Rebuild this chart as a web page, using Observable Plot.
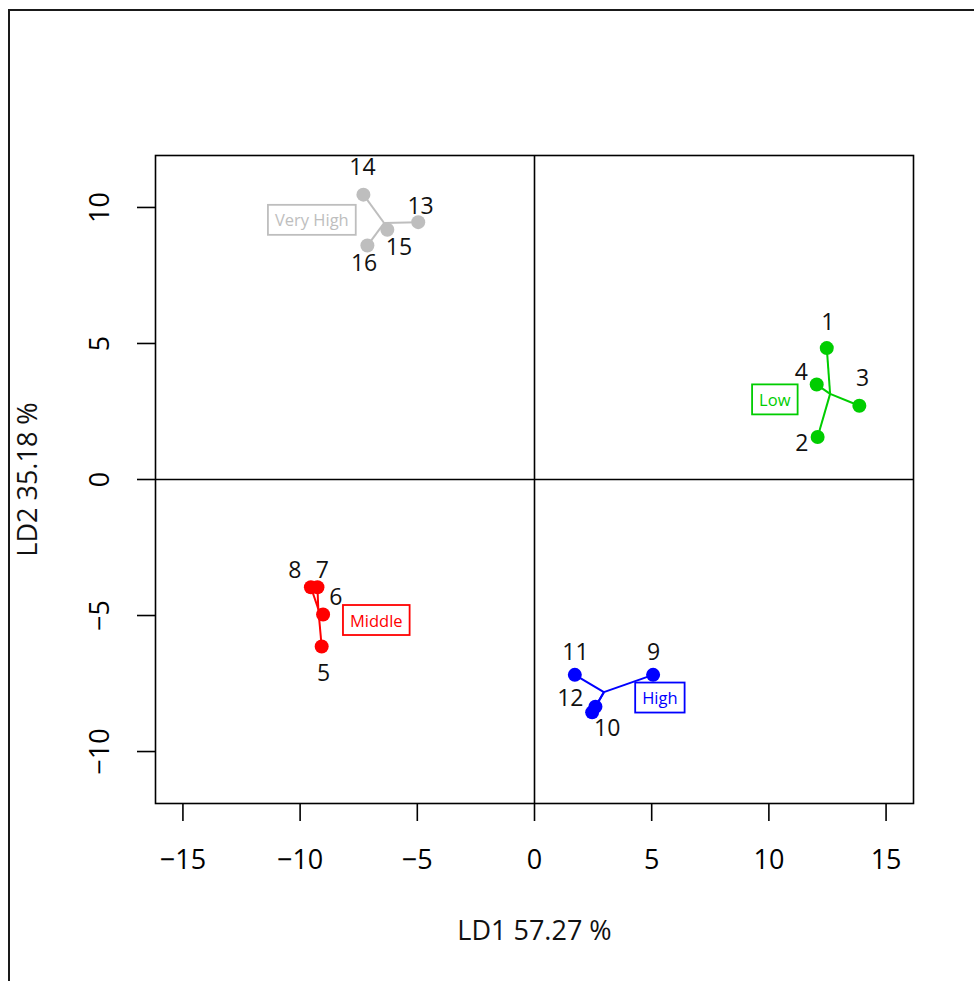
<!DOCTYPE html>
<html>
<head>
<meta charset="utf-8">
<script src="https://cdn.jsdelivr.net/npm/d3@7"></script>
<script src="https://cdn.jsdelivr.net/npm/@observablehq/plot@0.6"></script>
<style>
  html, body { margin: 0; padding: 0; background: #fff; }
  #wrap { position: relative; width: 974px; height: 981px; overflow: hidden; }
  #border { position: absolute; left: 8px; top: 9px; width: 1100px; height: 1100px;
            border-left: 2px solid #1a1a1a; border-top: 2px solid #1a1a1a; pointer-events: none; }
</style>
</head>
<body>
<div id="wrap"><div id="chart"></div><div id="border"></div></div>
<script>
// ---- data ----
const ids    = [1, 2, 3, 4, 5, 6, 7, 8, 9, 10, 11, 12, 13, 14, 15, 16];
const groups = ["Low", "Low", "Low", "Low", "Middle", "Middle", "Middle", "Middle",
                "High", "High", "High", "High", "Very High", "Very High", "Very High", "Very High"];
const ld1 = [12.47, 12.08, 13.86, 12.04, -9.08, -9.02, -9.26, -9.54, 5.06, 2.46, 1.72, 2.60, -4.96, -7.30, -6.28, -7.13];
const ld2 = [4.83, 1.56, 2.71, 3.49, -6.14, -4.96, -3.96, -3.96, -7.18, -8.56, -7.18, -8.35, 9.46, 10.47, 9.18, 8.60];
// where each point's number label sits (data units)
const labelLD1 = [12.51, 11.41, 14.00, 11.38, -9.00, -8.48, -9.05, -10.23, 5.08, 3.10, 1.75, 1.53, -4.86, -7.34, -5.78, -7.27];
const labelLD2 = [5.78, 1.31, 3.70, 3.94, -7.12, -4.35, -3.35, -3.35, -6.35, -9.17, -6.35, -8.04, 10.02, 11.48, 8.54, 7.93];

const groupNames  = ["Low", "Middle", "High", "Very High"];
const groupColors = ["#00CD00", "#FF0000", "#0000FF", "#BEBEBE"];
const groupLabelLD1 = [10.25, -6.75, 5.35, -9.50];
const groupLabelLD2 = [2.90, -5.21, -8.06, 9.50];

const xTicks = [-15, -10, -5, 0, 5, 10, 15];
const yTicks = [-10, -5, 0, 5, 10];
const xTitle = "LD1 57.27 %";
const yTitle = "LD2 35.18 %";

// ---- build tables ----
const points = ids.map((id, i) => ({id: String(id), group: groups[i], x: ld1[i], y: ld2[i], lx: labelLD1[i], ly: labelLD2[i]}));
const centroids = new Map(d3.groups(points, d => d.group).map(([g, v]) => [g, {cx: d3.mean(v, d => d.x), cy: d3.mean(v, d => d.y)}]));
const segments = points.map(p => ({...p, ...centroids.get(p.group)}));
const groupLabels = groupNames.map((g, i) => ({group: g, x: groupLabelLD1[i], y: groupLabelLD2[i]}));

const fmt = d => d < 0 ? "\u2212" + Math.abs(d) : String(d);
const FONT = "'Open Sans', 'Noto Sans', sans-serif";

const chart = Plot.plot({
  width: 974,
  height: 981,
  marginLeft: 155,
  marginRight: 61,
  marginTop: 155,
  marginBottom: 178,
  x: {domain: [-16.17, 16.17]},
  y: {domain: [-11.91, 11.91]},
  color: {domain: groupNames, range: groupColors},
  style: {fontFamily: FONT, background: "transparent", color: "black", overflow: "visible"},
  marks: [
    Plot.ruleX([0], {stroke: "#000", strokeWidth: 1.6}),
    Plot.ruleY([0], {stroke: "#000", strokeWidth: 1.6}),
    Plot.link(segments, {x1: "cx", y1: "cy", x2: "x", y2: "y", stroke: "group", strokeWidth: 2}),
    Plot.dot(points, {x: "x", y: "y", r: 7, fill: "group", stroke: null}),
    Plot.text(points, {x: "lx", y: "ly", text: "id", fill: "#111", fontSize: 23}),
    Plot.text(groupLabels, {x: "x", y: "y", text: "group", fill: "group", fontSize: 16.5}),
    Plot.frame({stroke: "#000", strokeWidth: 1.6}),
    Plot.axisX({ticks: xTicks, tickFormat: fmt, tickSize: 18, tickPadding: 28, fontSize: 27, label: null, stroke: "#000", strokeWidth: 1.6}),
    Plot.axisY({ticks: yTicks, tickFormat: fmt, tickSize: 18, tickPadding: 29, tickRotate: -90, fontSize: 27, label: null, stroke: "#000", strokeWidth: 1.6}),
    Plot.text([xTitle], {frameAnchor: "bottom", text: d => d, dy: 128, fontSize: 27, lineAnchor: "middle", textAnchor: "middle", fill: "#111"}),
    Plot.text([yTitle], {frameAnchor: "left", text: d => d, dx: -127, rotate: -90, fontSize: 27, lineAnchor: "middle", textAnchor: "middle", fill: "#111"})
  ]
});

document.getElementById("chart").appendChild(chart);

// boxes around the group labels
const svgNS = "http://www.w3.org/2000/svg";
const colorOf = new Map(groupNames.map((g, i) => [g, groupColors[i]]));
chart.querySelectorAll("text").forEach(t => {
  const name = t.textContent;
  if (!colorOf.has(name)) return;
  const b = t.getBBox();
  const r = document.createElementNS(svgNS, "rect");
  const padX = 7, padY = 3.5;
  r.setAttribute("x", b.x - padX);
  r.setAttribute("y", b.y - padY);
  r.setAttribute("width", b.width + 2 * padX);
  r.setAttribute("height", b.height + 2 * padY);
  r.setAttribute("fill", "white");
  r.setAttribute("stroke", colorOf.get(name));
  r.setAttribute("stroke-width", 1.8);
  const tr = t.getAttribute("transform");
  if (tr) r.setAttribute("transform", tr);
  t.parentNode.insertBefore(r, t);
});
</script>
</body>
</html>
